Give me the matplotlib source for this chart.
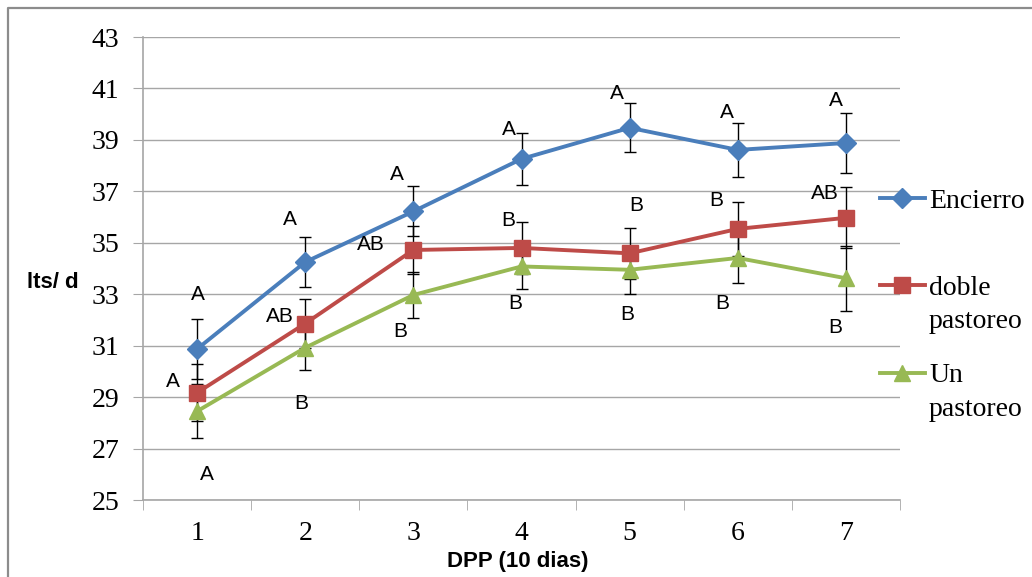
import matplotlib.pyplot as plt
from matplotlib.lines import Line2D

# DPP periods (10 days each)
dpp = [1, 2, 3, 4, 5, 6, 7]

encierro = [30.87, 34.25, 36.22, 38.26, 39.47, 38.61, 38.88]
encierro_err = [1.15, 0.98, 0.97, 1.0, 0.96, 1.05, 1.16]
doble = [29.17, 31.86, 34.72, 34.8, 34.59, 35.54, 35.97]
doble_err = [1.1, 0.95, 0.92, 1.0, 1.0, 1.06, 1.18]
un = [28.45, 30.92, 32.97, 34.08, 33.95, 34.41, 33.62]
un_err = [1.05, 0.86, 0.9, 0.88, 0.94, 0.98, 1.27]

# significance letters per series
enc_letters = ['A', 'A', 'A', 'A', 'A', 'A', 'A']
dob_letters = ['A', 'AB', 'AB', 'B', 'B', 'B', 'AB']
un_letters = ['A', 'B', 'B', 'B', 'B', 'B', 'B']

# where each letter sits (data coords)
enc_lab_x = [1.01, 1.86, 2.85, 3.88, 4.88, 5.90, 6.91]
enc_lab_y = [32.97, 35.89, 37.64, 39.39, 40.79, 40.05, 40.55]
dob_lab_x = [0.78, 1.77, 2.61, 3.88, 5.06, 5.80, 6.81]
dob_lab_y = [29.59, 32.12, 34.95, 35.85, 36.43, 36.66, 36.90]
un_lab_x = [1.09, 1.96, 2.88, 3.94, 4.98, 5.86, 6.90]
un_lab_y = [26.01, 28.77, 31.57, 32.62, 32.23, 32.62, 31.69]

serif = 'Liberation Serif'
sans = 'Liberation Sans'
grid_c = '#A6A6A6'
W, H = 1032, 577


def fx(px):
    return px / W


def fy(py):
    return 1 - py / H


fig = plt.figure(figsize=(W / 100, H / 100), dpi=100)
ax = fig.add_axes([fx(143), fy(500), 757 / W, 463 / H])

# chart area border (top and left edges only)
fig.add_artist(Line2D([fx(8), fx(8), fx(1032)], [fy(577), fy(8), fy(8)],
                      transform=fig.transFigure, color='#8C8C8C', linewidth=1.6))

series = [
    (encierro, encierro_err, '#4A7EBB', 'D', 10, ['Encierro']),
    (doble, doble_err, '#BE4B48', 's', 11, ['doble', 'pastoreo']),
    (un, un_err, '#98B954', '^', 12, ['Un', 'pastoreo']),
]
for vals, err, col, mk, ms, _ in series:
    ax.errorbar(dpp, vals, yerr=err, fmt='none', ecolor='black',
                elinewidth=1, capsize=4, capthick=1, zorder=2)
    ax.plot(dpp, vals, color=col, linewidth=2.8, marker=mk, markersize=ms,
            markeredgecolor=col, zorder=3)

for letters, lx, ly in [(enc_letters, enc_lab_x, enc_lab_y),
                        (dob_letters, dob_lab_x, dob_lab_y),
                        (un_letters, un_lab_x, un_lab_y)]:
    for t, x, y in zip(letters, lx, ly):
        ax.text(x, y, t, ha='center', va='center', fontsize=15,
                family=sans, zorder=4)

ax.set_xlim(0.5, 7.5)
ax.set_ylim(25, 43)
ax.set_yticks(range(25, 44, 2))
ax.set_xticks(dpp)
ax.set_xticks([x + 0.5 for x in range(0, 8)], minor=True)
ax.tick_params(axis='x', which='major', length=0, pad=15)
ax.tick_params(axis='x', which='minor', length=7, color=grid_c, direction='out')
ax.tick_params(axis='y', length=7, color=grid_c, direction='out', pad=10)
for lab in ax.get_xticklabels() + ax.get_yticklabels():
    lab.set_family(serif)
    lab.set_fontsize(20)

ax.grid(axis='y', color=grid_c, linewidth=1)
ax.set_axisbelow(True)
for s in ['top', 'right']:
    ax.spines[s].set_visible(False)
for s in ['left', 'bottom']:
    ax.spines[s].set_color(grid_c)
    ax.spines[s].set_linewidth(1.2)

ax.set_ylabel('lts/ d', family=sans, fontweight='bold', fontsize=16,
              rotation=0, ha='center', va='center')
ax.yaxis.set_label_coords((53 - 143) / 757, (500 - 282) / 463)
ax.set_xlabel('DPP (10 dias)', family=sans, fontweight='bold', fontsize=16,
              va='center')
ax.xaxis.set_label_coords((518 - 143) / 757, (500 - 561) / 463)

# legend drawn by hand: handle lines up with the first text line
legend_y = [198, 285, 373]
for (_, _, col, mk, ms, lines), y in zip(series, legend_y):
    fig.add_artist(Line2D([fx(880), fx(902), fx(925)], [fy(y)] * 3,
                          transform=fig.transFigure, color=col, linewidth=2.8,
                          marker=mk, markersize=ms, markevery=[1]))
    for i, t in enumerate(lines):
        fig.text(fx(929), fy(y + 33 * i), t, family=serif, fontsize=20,
                 ha='left', va='center_baseline')

fig.savefig('out.png', dpi=100)
